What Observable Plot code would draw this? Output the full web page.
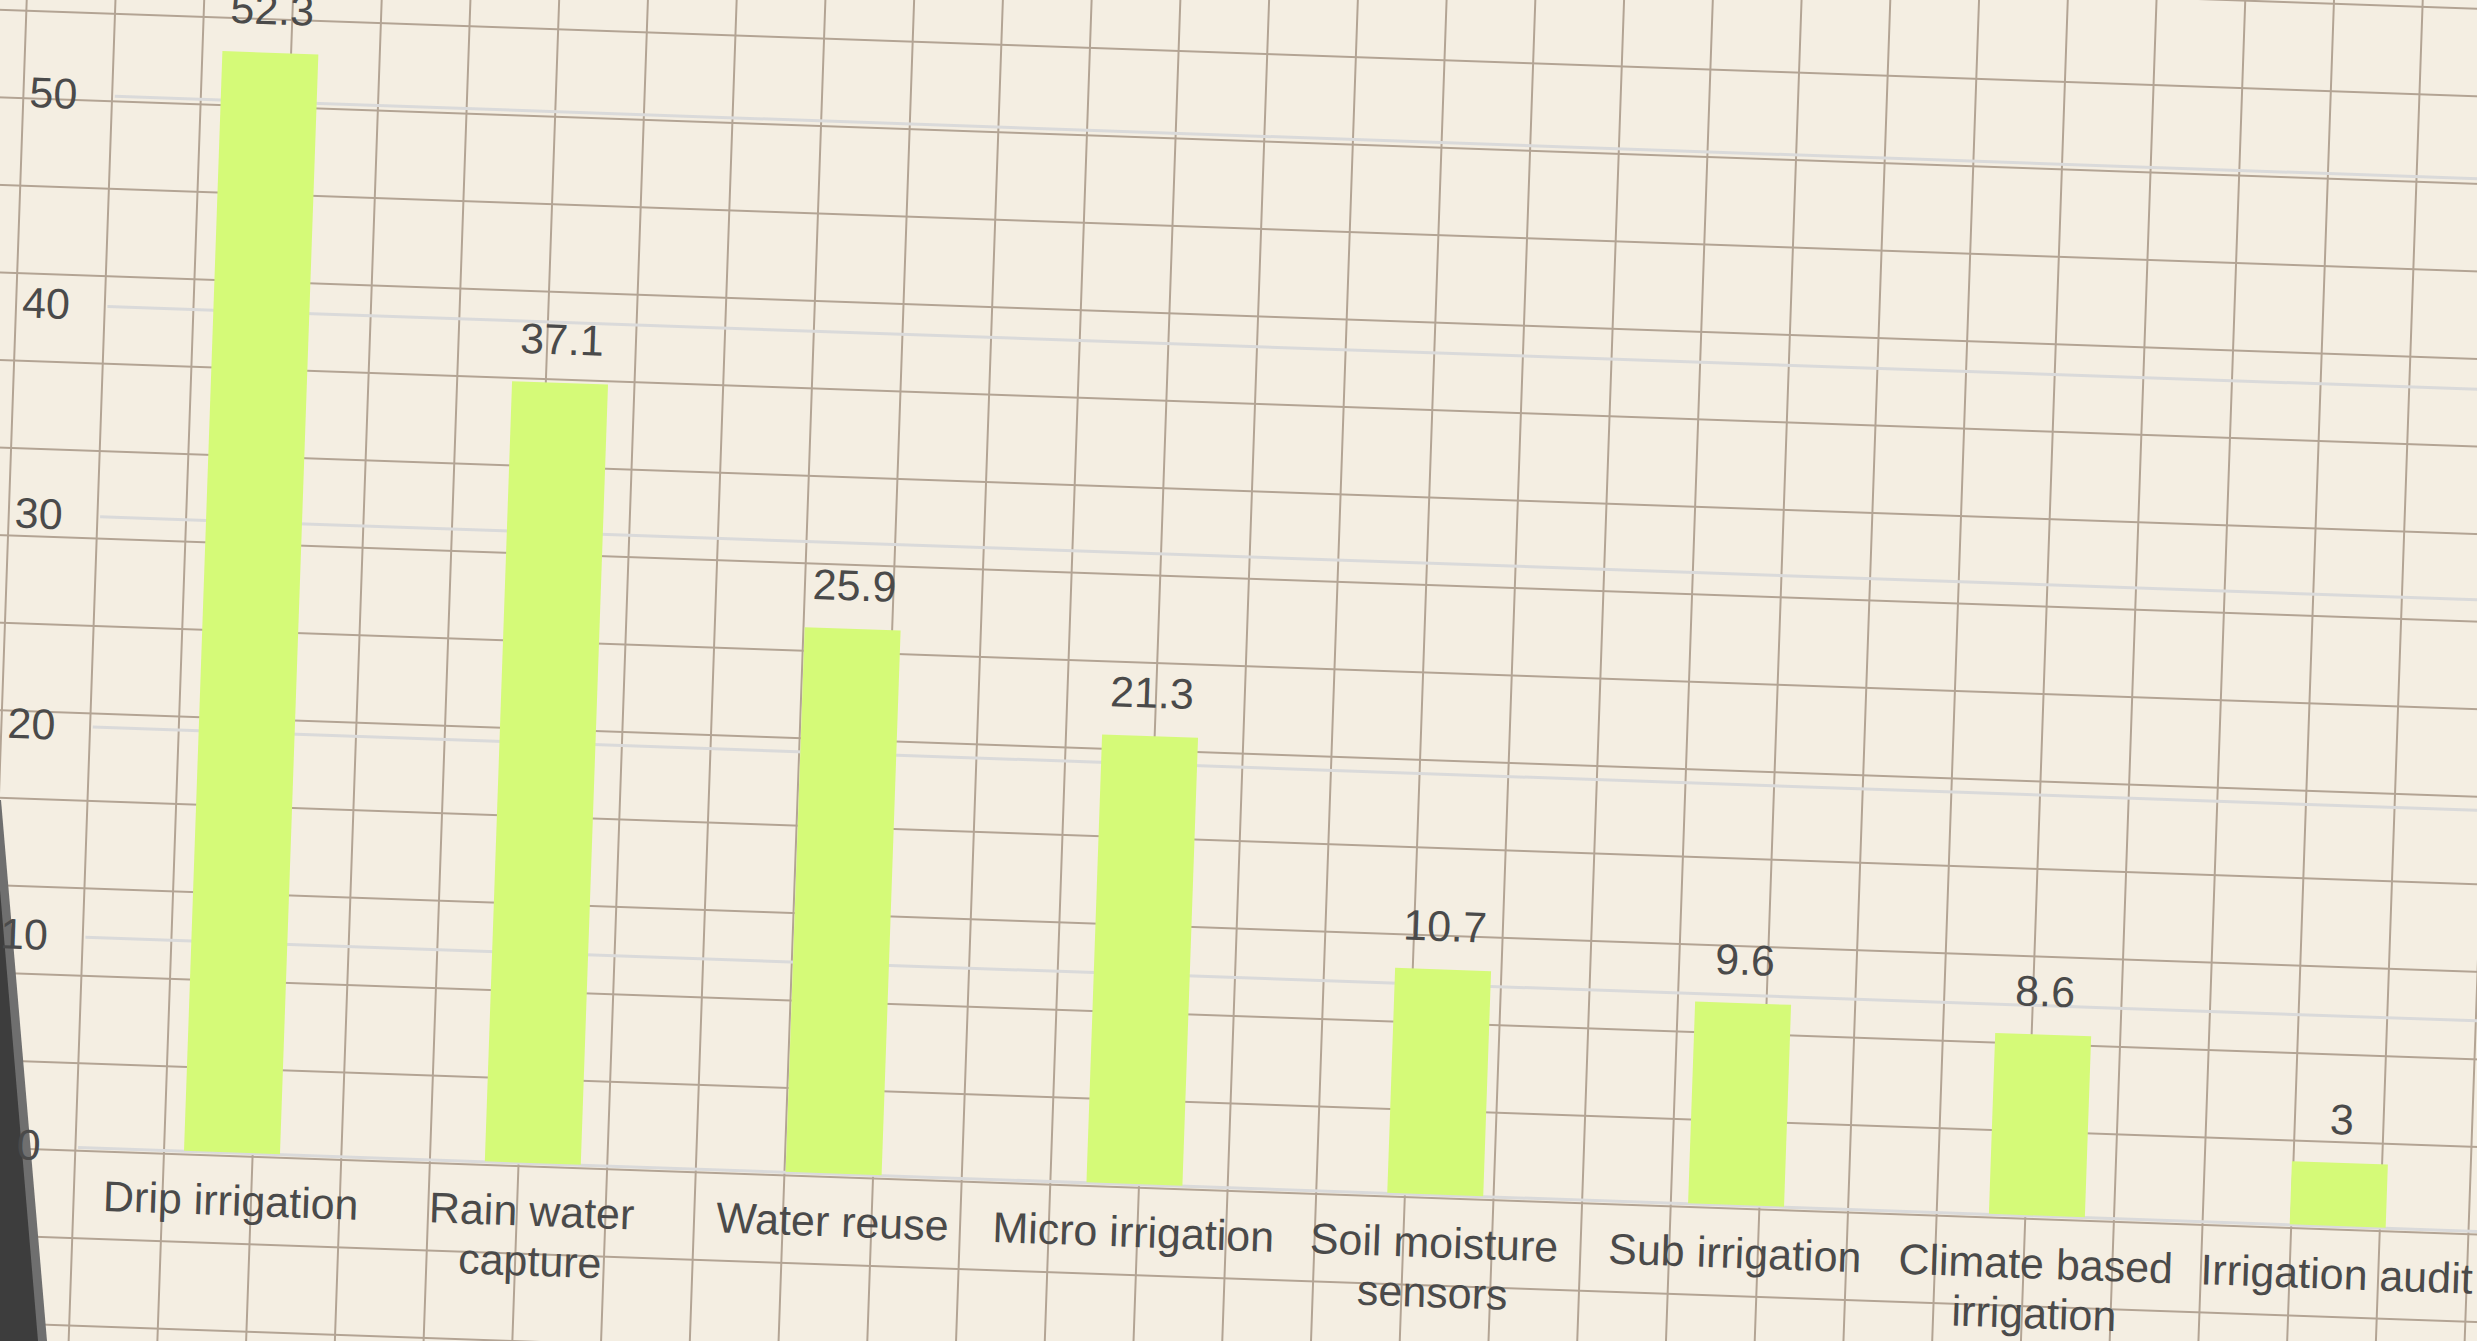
<!DOCTYPE html>
<html>
<head>
<meta charset="utf-8">
<script src="https://cdn.jsdelivr.net/npm/d3@7"></script>
<script src="https://cdn.jsdelivr.net/npm/@observablehq/plot@0.6"></script>
<style>
  html, body { margin: 0; padding: 0; width: 2477px; height: 1341px; overflow: hidden; background: #f4eee2; }
  .layer {
    position: absolute; left: -371.5px; top: -348.3px; width: 3300px; height: 2200px;
    transform-origin: 600px 1500px; transform: rotate(2deg);
  }
  #paper {
    background-color: #f4eee2;
    background-image:
      linear-gradient(to right, #b3a494 2px, transparent 2px),
      linear-gradient(to bottom, #b3a494 2px, transparent 2px);
    background-size: 88.7px 100%, 100% 87.5px;
    background-position: 1.9px 0, 0 15.5px;
  }
  #chart { position: absolute; left: 199.1px; top: 137.6px; }
  #edge-light { position: absolute; left: 0; top: 800px; width: 60px; height: 541px; background: #6f6f6f;
    clip-path: polygon(0 0, 1px 0, 47px 541px, 0 541px); }
  #edge-dark { position: absolute; left: 0; top: 800px; width: 60px; height: 541px; background: #3d3d3d;
    clip-path: polygon(0 90px, 0 90px, 38px 541px, 0 541px); }
</style>
</head>
<body>
<div id="paper" class="layer"></div>
<div id="edge-light"></div>
<div id="edge-dark"></div>
<div id="chartlayer" class="layer"><div id="chart"></div></div>
<script>
const categories = ["Drip irrigation", "Rain water capture", "Water reuse", "Micro irrigation",
  "Soil moisture sensors", "Sub irrigation", "Climate based irrigation", "Irrigation audit"];
const categoryLabels = ["Drip irrigation", "Rain water\ncapture", "Water reuse", "Micro irrigation",
  "Soil moisture\nsensors", "Sub irrigation", "Climate based\nirrigation", "Irrigation audit"];
const values = [52.3, 37.1, 25.9, 21.3, 10.7, 9.6, 8.6, 3];
const yTicks = [0, 10, 20, 30, 40, 50, 60];

const data = categories.map((c, i) => ({name: c, label: categoryLabels[i], value: values[i]}));

const font = "'Liberation Sans', Arial, Helvetica, sans-serif";
const textColor = "#4a4a4a";
const fs = 43;

const plot = Plot.plot({
  width: 2714.4,
  height: 1512.4,
  marginLeft: 250,
  marginRight: 50,
  marginTop: 100,
  marginBottom: 150,
  style: {background: "transparent", fontFamily: font, overflow: "visible"},
  x: {domain: categories, paddingInner: 0.68, paddingOuter: 0.34, axis: null},
  y: {domain: [0, 60], axis: null},
  marks: [
    Plot.gridY(yTicks, {stroke: "#dadada", strokeOpacity: 1, strokeWidth: 3}),
    Plot.barY(data, {x: "name", y: "value", fill: "#d5fa78"}),
    Plot.text(data, {x: "name", y: "value", text: d => String(d.value), lineAnchor: "bottom", dy: -29,
      fontSize: fs, fill: textColor, fontFamily: font}),
    Plot.axisY(yTicks, {tickSize: 0, tickPadding: 38, fontSize: fs, fill: textColor, label: null, fontFamily: font}),
    Plot.text(data, {x: "name", text: "label", frameAnchor: "bottom", lineAnchor: "top", dy: 27,
      lineHeight: 1.16, fontSize: fs, fill: textColor, fontFamily: font})
  ]
});
document.getElementById("chart").appendChild(plot);
</script>
</body>
</html>
